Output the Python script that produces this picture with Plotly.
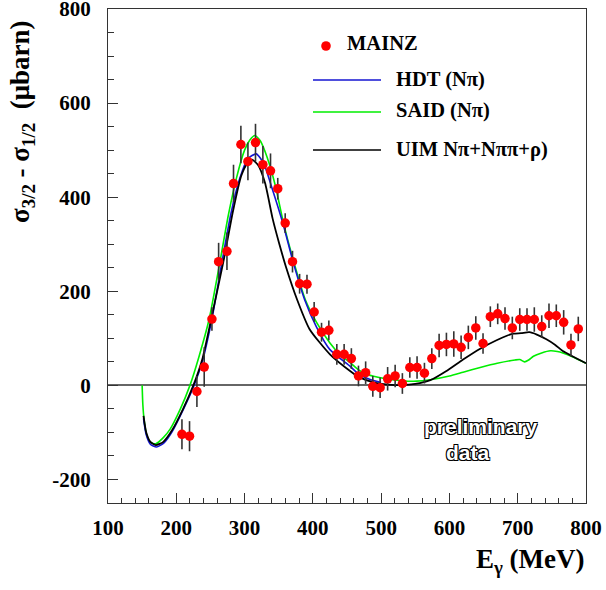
import plotly.graph_objects as go

# ---- MAINZ data ----
mainz_E = [208.3, 219.4, 230.2, 240.9, 252.2, 262.0, 274.2, 283.8, 294.6, 304.9, 316.0, 326.8,
           338.0, 348.6, 359.5, 370.2, 380.6, 391.4, 401.9, 412.7, 423.4, 435.1, 445.8, 456.4,
           466.8, 477.3, 487.8, 498.5, 509.5, 520.5, 531.1, 542.0, 552.6, 563.4, 574.2, 584.9,
           595.6, 606.4, 617.1, 627.7, 638.6, 649.2, 659.9, 670.7, 681.4, 692.1, 703.0, 713.6,
           724.3, 735.2, 745.8, 756.5, 767.3, 778.0, 788.7]
mainz_val = [-104, -108, -13, 39, 141, 263, 285, 429, 512, 476, 516, 469,
             456, 418, 345, 263, 216, 215, 156, 113, 117, 66, 66, 57,
             20, 27, -2, -5, 14, 20, 4, 38, 38, 26, 57, 85,
             87, 88, 81, 102, 122, 89, 146, 152, 142, 122, 140, 140,
             140, 125, 148, 148, 134, 86, 120]
mainz_err = [32, 32, 33, 42, 25, 40, 40, 40, 40, 40, 40, 40,
             37, 23, 21, 23, 21, 20, 21, 20, 21, 22, 22, 22,
             22, 24, 22, 22, 25, 24, 22, 22, 24, 22, 22, 25,
             25, 27, 25, 25, 25, 22, 22, 22, 24, 24, 24, 24,
             26, 24, 26, 24, 26, 24, 26]

# ---- model curves ----
hdt_E = [152, 156, 162, 171, 182, 194, 210, 226, 238, 252, 267, 280, 293, 305, 317, 328,
         340, 356, 371, 388, 405, 425, 455, 467, 485, 500]
hdt_val = [-70, -105, -125, -131, -122, -98, -52, 0, 50, 140, 263, 365, 440, 482, 492, 472,
           420, 345, 263, 182, 125, 76, 40, 24, 12, 6]

said_E = [150, 151, 153, 156, 160, 165, 170, 181, 191, 206, 220, 233, 248, 264, 276, 288,
          300, 308, 315, 323, 333, 345, 357, 372, 389, 405, 425, 440, 455, 467, 480, 503,
          530, 552, 572, 600, 620, 645, 670, 696, 703, 710, 716, 723, 735, 748, 758, 766,
          780, 800]
said_val = [0, -40, -75, -102, -117, -123, -124, -111, -93, -50, 0, 60, 140, 263, 360, 440,
            500, 522, 531, 520, 485, 425, 345, 263, 182, 135, 90, 65, 48, 33, 23, 15,
            10, 9, 12, 20, 28, 38, 47, 54, 55, 50, 54, 62, 69, 73.5, 72, 69,
            61, 47]

uim_E = [152, 156, 162, 170, 181, 194, 210, 225, 238, 251, 269, 283, 295, 304, 311, 320,
         330, 341, 351, 361, 377, 395, 425, 455, 467, 490, 515, 530, 550, 572, 595, 620,
         645, 669, 685, 694, 705, 717, 728, 742, 755, 766, 780, 800]
uim_val = [-65, -100, -120, -127, -120, -95, -50, 0, 55, 140, 263, 370, 445, 472, 480, 468,
           430, 355, 300, 250, 182, 120, 66, 30, 18, 6, 1, 0.5, 3, 11, 30, 55,
           78, 96, 106, 110, 111, 113, 108, 98, 86, 73, 62, 47]

x_ticks = [100, 200, 300, 400, 500, 600, 700, 800]
x_ticktext = ["100", "200", "300", "400", "500", "600", "700", "800"]
y_ticks = [-200, 0, 200, 400, 600, 800]
y_ticktext = ["-200", "0", "200", "400", "600", "800"]

legend_labels = ["MAINZ", "HDT (N\u03c0)", "SAID (N\u03c0)", "UIM N\u03c0+N\u03c0\u03c0+\u03c1)"]

# ---- geometry helpers (pixel -> paper) ----
L, R, T, B = 108, 586, 9, 503
W, H = 606, 590


def px(x):
    return (x - L) / (R - L)


def py(y):
    return (B - y) / (B - T)


SERIF = "Liberation Serif"
BLUE = "#1414d2"
GREEN = "#00ee00"

fig = go.Figure()

fig.add_trace(go.Scatter(x=said_E, y=said_val, mode="lines",
                         line=dict(color=GREEN, width=1.6, shape="spline", smoothing=0.6),
                         showlegend=False))
fig.add_trace(go.Scatter(x=hdt_E, y=hdt_val, mode="lines",
                         line=dict(color=BLUE, width=1.6, shape="spline", smoothing=0.6),
                         showlegend=False))
fig.add_trace(go.Scatter(x=uim_E, y=uim_val, mode="lines",
                         line=dict(color="black", width=1.8, shape="spline", smoothing=0.6),
                         showlegend=False))
fig.add_trace(go.Scatter(x=mainz_E, y=mainz_val, mode="markers",
                         marker=dict(color="#ff0000", size=9.5),
                         error_y=dict(type="data", array=mainz_err, color="#333333",
                                      thickness=1.6, width=0),
                         showlegend=False))

axis_common = dict(
    showline=True, linecolor="#333333", linewidth=1.2, mirror=True,
    ticks="inside", ticklen=10, tickcolor="#333333", tickwidth=1.2,
    showgrid=False, automargin=False, ticklabeloverflow="allow",
    tickfont=dict(family=SERIF, size=21, color="black", weight="bold"),
)

fig.update_xaxes(range=[100, 800], tickvals=x_ticks, ticktext=x_ticktext, zeroline=False,
                 minor=dict(ticks="inside", ticklen=5, dtick=20, tickcolor="#333333",
                            tickwidth=1.2, showgrid=False),
                 ticklabelstandoff=6, **axis_common)
fig.update_yaxes(range=[-250, 800], tickvals=y_ticks, ticktext=y_ticktext, zeroline=True,
                 zerolinecolor="#666666", zerolinewidth=1.5,
                 minor=dict(ticks="inside", ticklen=6, dtick=50, tickcolor="#333333",
                            tickwidth=1.2, showgrid=False),
                 ticklabelstandoff=12, **axis_common)

shapes = []
annotations = []

# legend
leg_font = dict(family=SERIF, size=20.5, color="black", weight="bold")
r = 4.8
shapes.append(dict(type="circle", xref="paper", yref="paper",
                   x0=px(326 - r), x1=px(326 + r), y0=py(46 + r), y1=py(46 - r),
                   fillcolor="#ff0000", line=dict(width=0)))
annotations.append(dict(x=px(345), y=py(43), xref="paper", yref="paper",
                        text=legend_labels[0], showarrow=False, xanchor="left",
                        yanchor="middle", font=leg_font))
for (ly, col, lab) in [(80, BLUE, legend_labels[1]), (112, GREEN, legend_labels[2]),
                       (150, "black", legend_labels[3])]:
    shapes.append(dict(type="line", xref="paper", yref="paper",
                       x0=px(313), x1=px(381), y0=py(ly), y1=py(ly),
                       line=dict(color=col, width=1.6)))
    annotations.append(dict(x=px(394), y=py(ly - 1), xref="paper", yref="paper",
                            text=lab, showarrow=False, xanchor="left",
                            yanchor="middle", font=leg_font))

# preliminary data (outlined text)
outline = "1px 1px 0 #000, -1px -1px 0 #000, 1px -1px 0 #000, -1px 1px 0 #000"
pfont = dict(family="Liberation Sans", size=21, color="white", weight="bold", shadow=outline)
annotations.append(dict(x=px(481), y=py(426), xref="paper", yref="paper",
                        text="preliminary", showarrow=False, xanchor="center",
                        yanchor="middle", font=pfont))
annotations.append(dict(x=px(467.5), y=py(452), xref="paper", yref="paper",
                        text="data", showarrow=False, xanchor="center",
                        yanchor="middle", font=pfont))

# axis titles
tfont = dict(family=SERIF, size=27, color="black", weight="bold")
annotations.append(dict(x=px(22), y=py(122), xref="paper", yref="paper",
                        text="\u03c3<sub>3/2</sub> - \u03c3<sub>1/2</sub>\u00a0\u00a0(\u03bcbarn)",
                        textangle=-90, showarrow=False, xanchor="center",
                        yanchor="middle", font=tfont))
annotations.append(dict(x=px(587), y=py(561), xref="paper", yref="paper",
                        text="E<sub>\u03b3</sub> (MeV)", showarrow=False,
                        xanchor="right", yanchor="middle", font=tfont))

fig.update_layout(
    width=W, height=H,
    margin=dict(l=L, r=W - R, t=T, b=H - B, autoexpand=False),
    paper_bgcolor="white", plot_bgcolor="white",
    shapes=shapes, annotations=annotations,
    showlegend=False,
)

fig.write_html("out.html", config={"displayModeBar": False},
               post_script="document.body.style.margin='0';document.body.style.overflow='hidden';")
